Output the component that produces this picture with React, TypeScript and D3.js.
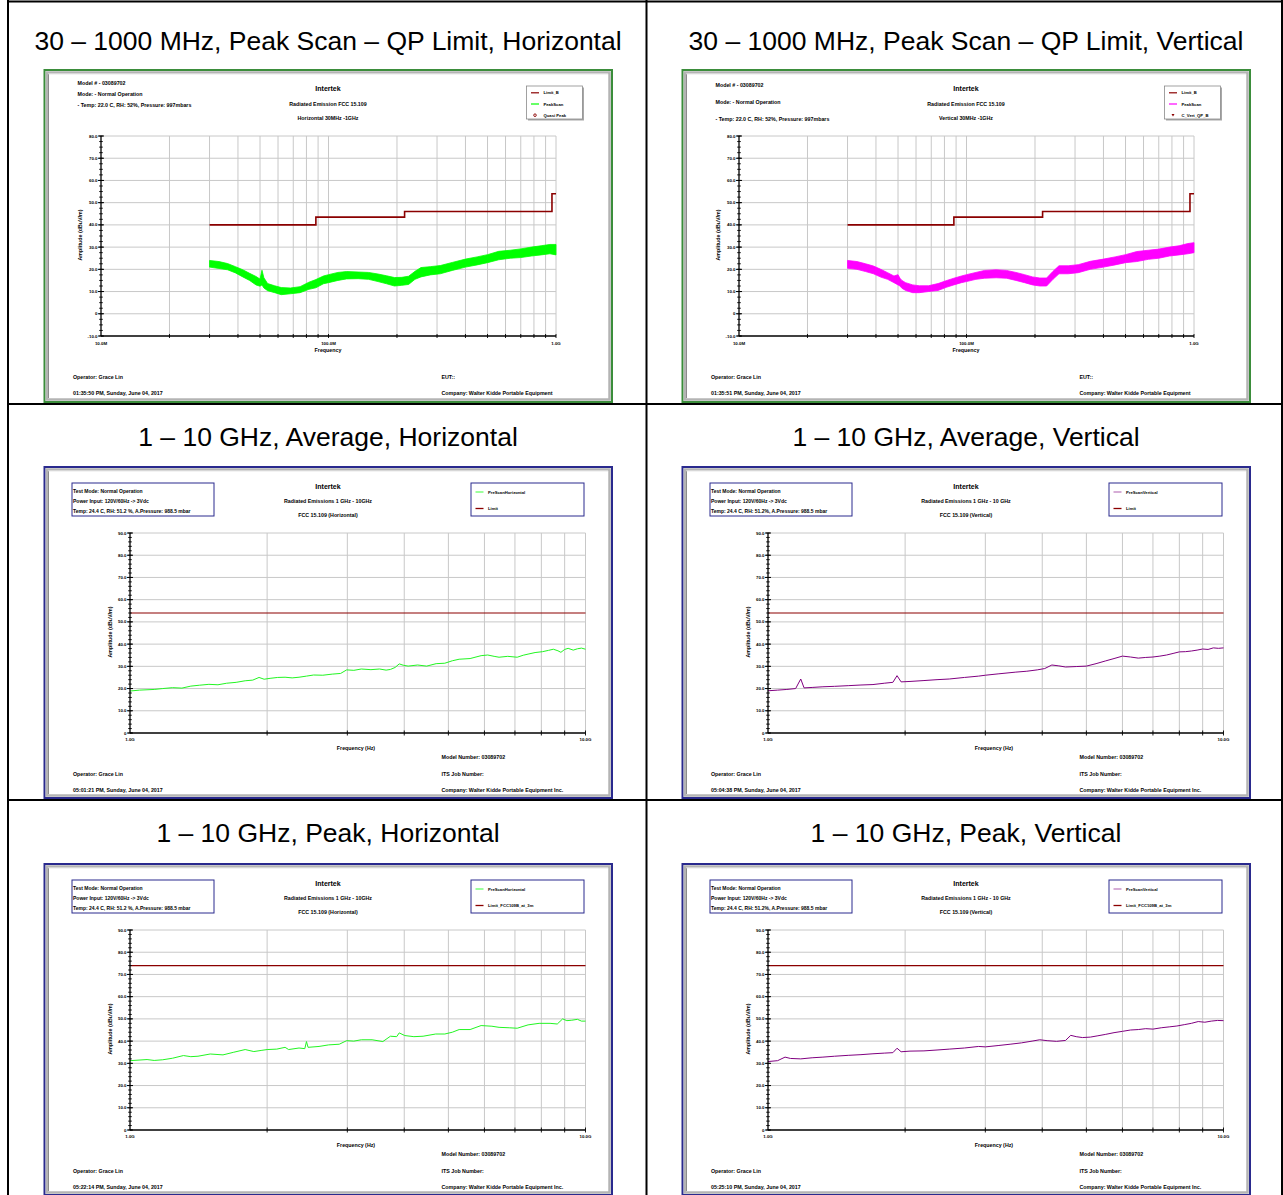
import React from "react";
import * as d3 from "d3";

const FONT = "'Liberation Sans', Arial, Helvetica, sans-serif";

// ---- cell titles (row by row, left then right)
const CELL_TITLES = [
  "30 – 1000 MHz, Peak Scan – QP Limit, Horizontal",
  "30 – 1000 MHz, Peak Scan – QP Limit, Vertical",
  "1 – 10 GHz, Average, Horizontal",
  "1 – 10 GHz, Average, Vertical",
  "1 – 10 GHz, Peak, Horizontal",
  "1 – 10 GHz, Peak, Vertical",
];

// ---- 30 MHz - 1 GHz peak scans: envelope (high / low) of the noisy trace, dBuV/m
const SCAN_FREQ_MHZ = [30, 33, 36, 39, 42, 45, 48, 50, 51, 52, 54, 58, 62, 68, 75, 82, 88, 95, 100, 110, 120, 135, 150, 165, 180, 195, 210, 225, 240, 255, 280, 310, 350, 400, 450, 500, 560, 630, 700, 780, 860, 940, 1000];
const SCAN_H_HI = [24, 23.5, 22.6, 21.2, 19.8, 18.2, 16.8, 15.6, 19.6, 16.2, 13.6, 12.6, 11.8, 11.6, 12.2, 14.2, 15.4, 17, 17.6, 18.6, 19, 18.8, 18.6, 17.9, 17.1, 16.3, 16.4, 16.9, 19.1, 20.8, 21.2, 21.7, 23.1, 24.6, 25.6, 26.6, 28.1, 28.6, 29.2, 30, 30.6, 31.2, 31.2];
const SCAN_H_LO = [21, 20.4, 19.8, 18.4, 16.6, 15, 13, 12.4, 13, 11.6, 10.4, 9.5, 8.6, 9, 9.5, 11, 11.7, 13.5, 14, 15, 15.7, 15.8, 15.5, 14.5, 13.5, 12.5, 12.8, 13.2, 15.5, 16.6, 17.5, 18, 19.5, 21, 22, 23, 24.3, 25, 25.3, 26, 26.5, 27, 26.5];
const SCAN_V_HI = [24, 23.5, 22.5, 21.5, 20, 18.5, 17, 17.6, 16, 15, 14, 13, 12.6, 12.6, 13.6, 15, 16, 17, 17.6, 18.6, 19.5, 19.8, 19.5, 18.6, 17.6, 16.6, 16.1, 16.1, 19.1, 21.6, 21.6, 22.1, 23.6, 24.6, 25.6, 26.6, 28, 28.6, 29.1, 30, 30.6, 31.6, 32];
const SCAN_V_LO = [20.5, 20, 19, 18, 16.5, 15.5, 14, 13, 12.5, 11.5, 10.5, 9.5, 9.5, 10, 10.5, 12, 13, 14, 14.5, 15.5, 16, 16.2, 16, 15, 14, 13, 12.5, 12.5, 15.5, 18, 18, 18.5, 20, 21, 22, 23, 23.5, 24.5, 25, 26, 26.5, 27, 27.5];

const QP_LIMIT_FREQ_MHZ = [30, 88, 216, 960, 1000];
const QP_LIMIT_DB = [40, 43.5, 46, 54, 54];

const LOW_Y_TICKS = [-10, 0, 10, 20, 30, 40, 50, 60, 70, 80];
const LOW_Y_LABELS = ["-10.0", "0", "10.0", "20.0", "30.0", "40.0", "50.0", "60.0", "70.0", "80.0"];
const LOW_X_TICKS = [10, 100, 1000];
const LOW_X_LABELS = ["10.0M", "100.0M", "1.0G"];
const LOW_GRID_MHZ = [20, 30, 40, 50, 60, 70, 80, 90, 100, 200, 300, 400, 500, 600, 700, 800, 900, 1000];

// ---- 1 - 10 GHz traces
const AVG_H_FREQ_GHZ = [1.0, 1.05, 1.13, 1.18, 1.24, 1.3, 1.36, 1.42, 1.49, 1.56, 1.63, 1.71, 1.79, 1.86, 1.92, 1.97, 2.03, 2.11, 2.19, 2.27, 2.35, 2.44, 2.53, 2.65, 2.78, 2.9, 2.99, 3.1, 3.22, 3.38, 3.53, 3.65, 3.73, 3.82, 3.9, 3.98, 4.08, 4.28, 4.48, 4.7, 4.91, 5.1, 5.28, 5.58, 5.9, 6.1, 6.3, 6.46, 6.75, 7.08, 7.3, 7.48, 7.75, 8.05, 8.3, 8.5, 8.7, 8.83, 9.0, 9.16, 9.4, 9.6, 9.8, 10];
const AVG_H_DB = [18.9, 19.3, 19.6, 20.0, 20.4, 20.2, 21.1, 21.5, 21.9, 21.7, 22.4, 22.8, 23.5, 23.8, 25.0, 24.2, 24.6, 25.0, 25.1, 24.8, 25.1, 25.6, 26.1, 26.0, 26.5, 26.8, 28.4, 28.2, 28.8, 28.5, 28.8, 28.3, 28.6, 29.5, 31.1, 30.5, 30.1, 30.6, 30.1, 31.2, 31.4, 32.5, 33.2, 33.5, 34.8, 35.1, 34.5, 34.1, 34.5, 34.1, 35.0, 35.5, 36.2, 36.6, 37.2, 37.7, 37.0, 36.3, 37.6, 38.1, 37.3, 37.9, 38.2, 37.7];

const AVG_V_FREQ_GHZ = [1.0, 1.05, 1.1, 1.15, 1.18, 1.2, 1.25, 1.32, 1.4, 1.5, 1.6, 1.7, 1.8, 1.88, 1.92, 1.96, 2.05, 2.2, 2.35, 2.5, 2.7, 2.9, 3.0, 3.2, 3.5, 3.7, 3.9, 4.05, 4.2, 4.35, 4.5, 4.75, 5.0, 5.25, 5.5, 5.75, 6.0, 6.25, 6.5, 6.75, 7.0, 7.25, 7.5, 7.75, 8.0, 8.25, 8.5, 8.75, 9.0, 9.25, 9.5, 9.75, 10];
const AVG_V_DB = [19.0, 19.3, 19.6, 20.0, 24.3, 20.3, 20.5, 20.8, 21.0, 21.3, 21.6, 21.8, 22.4, 22.8, 25.8, 23.0, 23.2, 23.6, 24.0, 24.3, 25.0, 25.6, 26.0, 26.6, 27.4, 27.8, 28.4, 29.0, 30.6, 30.2, 29.7, 29.9, 30.1, 31.2, 32.4, 33.5, 34.6, 34.2, 33.7, 34.0, 34.2, 34.6, 35.1, 35.8, 36.5, 36.6, 36.9, 37.3, 37.8, 37.6, 38.3, 38.1, 38.3];

const PK_H_FREQ_GHZ = [1.0, 1.09, 1.13, 1.18, 1.24, 1.31, 1.36, 1.41, 1.5, 1.6, 1.69, 1.79, 1.87, 1.94, 2.0, 2.1, 2.19, 2.23, 2.35, 2.42, 2.44, 2.46, 2.6, 2.73, 2.88, 2.99, 3.1, 3.22, 3.4, 3.59, 3.73, 3.85, 3.9, 4.01, 4.2, 4.4, 4.69, 4.91, 5.1, 5.28, 5.58, 5.9, 6.23, 6.46, 6.8, 7.08, 7.48, 7.91, 8.36, 8.67, 8.91, 9.1, 9.33, 9.6, 9.8, 10];
const PK_H_DB = [31.2, 31.7, 31.3, 31.6, 32.3, 33.5, 33.0, 33.2, 34.2, 33.8, 35.0, 36.2, 35.3, 35.8, 36.2, 36.4, 37.2, 36.2, 36.9, 36.6, 39.8, 37.2, 37.6, 38.3, 38.6, 40.2, 40.0, 40.6, 40.6, 39.8, 42.2, 42.0, 43.7, 42.5, 42.0, 42.2, 43.2, 43.2, 44.0, 45.2, 45.2, 47.0, 46.7, 46.2, 46.0, 45.8, 47.3, 48.0, 48.0, 47.7, 50.0, 49.2, 49.4, 49.8, 49.0, 49.0];

const PK_V_FREQ_GHZ = [1.0, 1.05, 1.09, 1.12, 1.18, 1.25, 1.32, 1.4, 1.5, 1.6, 1.7, 1.8, 1.88, 1.92, 1.96, 2.05, 2.2, 2.35, 2.5, 2.7, 2.9, 3.0, 3.2, 3.4, 3.6, 3.8, 3.95, 4.1, 4.3, 4.5, 4.62, 4.75, 4.9, 5.1, 5.3, 5.5, 5.75, 6.0, 6.25, 6.5, 6.75, 7.0, 7.3, 7.6, 7.9, 8.2, 8.5, 8.8, 9.1, 9.4, 9.7, 10];
const PK_V_DB = [30.8, 31.2, 32.8, 32.2, 32.0, 32.5, 32.8, 33.2, 33.6, 33.9, 34.3, 34.6, 34.8, 36.8, 35.2, 35.5, 35.6, 36.0, 36.4, 36.9, 37.6, 37.4, 38.0, 38.6, 39.2, 40.0, 40.6, 40.2, 39.9, 40.3, 42.6, 42.0, 41.6, 41.8, 42.4, 43.0, 43.8, 44.4, 45.0, 45.2, 45.6, 45.4, 46.0, 46.4, 46.8, 47.4, 48.0, 48.8, 48.5, 49.0, 49.3, 49.2];

const AVG_LIMIT_DB = 54;
const PK_LIMIT_DB = 74;

const HIGH_Y_TICKS = [0, 10, 20, 30, 40, 50, 60, 70, 80, 90];
const HIGH_Y_LABELS = ["0", "10.0", "20.0", "30.0", "40.0", "50.0", "60.0", "70.0", "80.0", "90.0"];
const HIGH_X_TICKS = [1, 10];
const HIGH_X_LABELS = ["1.0G", "10.0G"];
const HIGH_GRID_GHZ = [2, 3, 4, 5, 6, 7, 8, 9, 10];

const GREEN_FRAME = "#3b8d3b";
const NAVY_FRAME = "#2a2a8e";
const LIMIT_RED = "#8b0000";
const GRID = "#c8c8c8";

function T({ x, y, children, size = 5.3, anchor = "start", weight = "bold", rotate }: any) {
  return (
    <text
      x={x}
      y={y}
      fontFamily={FONT}
      fontSize={size}
      fontWeight={weight}
      textAnchor={anchor}
      fill="#000"
      transform={rotate ? `rotate(${rotate},${x},${y})` : undefined}
    >
      {children}
    </text>
  );
}

function Frame({ ox, oy, w, h, color }: any) {
  return (
    <g>
      <rect x={ox} y={oy} width={w} height={h} fill="#fff" stroke={color} strokeWidth={2} />
      <rect x={ox + 2.5} y={oy + 2.5} width={w - 5} height={h - 5} fill="none" stroke="#b4b4b4" strokeWidth={2.5} />
      <line x1={ox + 4} x2={ox + 4} y1={oy + 4} y2={oy + h - 4} stroke="#8c8c8c" strokeWidth={1} />
      <line x1={ox + 4} x2={ox + w - 4} y1={oy + 4} y2={oy + 4} stroke="#e8e8e8" strokeWidth={1} />
    </g>
  );
}

function YAxis({ x0, y, major, labels, minorStep, lo, hi }: any) {
  const minor = d3.range(lo, hi + 0.001, minorStep);
  return (
    <g>
      <line x1={x0} x2={x0} y1={y(lo)} y2={y(hi)} stroke="#000" strokeWidth={1.3} />
      {minor.map((v: number) => (
        <line key={"m" + v} x1={x0 - 1.8} x2={x0 + 1.8} y1={y(v)} y2={y(v)} stroke="#000" strokeWidth={0.9} />
      ))}
      {major.map((v: number, i: number) => (
        <g key={"M" + v}>
          <line x1={x0 - 3} x2={x0 + 3} y1={y(v)} y2={y(v)} stroke="#000" strokeWidth={1} />
          <T x={x0 - 3.5} y={y(v) + 1.6} size={4.4} anchor="end">
            {labels[i]}
          </T>
        </g>
      ))}
    </g>
  );
}

function LowPanel({ ox, oy, head, headY, sub, legend, color, hi, lo, date }: any) {
  const x = d3.scaleLog().domain([10, 1000]).range([ox + 56.5, ox + 511.5]);
  const y = d3.scaleLinear().domain([-10, 80]).range([oy + 266, oy + 66]);
  const area = d3
    .area<number>()
    .x((_, i) => x(SCAN_FREQ_MHZ[i]))
    .y0((_, i) => y(lo[i]))
    .y1((d) => y(d));
  const limit = d3
    .line<number>()
    .x((_, i) => x(QP_LIMIT_FREQ_MHZ[i]))
    .y((d) => y(d))
    .curve(d3.curveStepAfter);
  const [x0, x1] = x.range();
  const yb = y(-10);
  const yt = y(80);
  const lx = ox + 482;
  const ly = oy + 16;
  return (
    <g>
      <Frame ox={ox} oy={oy} w={567.5} h={332} color={GREEN_FRAME} />
      {head.map((s: string, i: number) => (
        <T key={s} x={ox + 33} y={oy + headY[i]}>
          {s}
        </T>
      ))}
      <T x={ox + 283.5} y={oy + 20.5} size={7} anchor="middle">
        Intertek
      </T>
      <T x={ox + 283.5} y={oy + 36} anchor="middle">
        {sub[0]}
      </T>
      <T x={ox + 283.5} y={oy + 50} anchor="middle">
        {sub[1]}
      </T>
      {/* legend */}
      <rect x={lx + 1.5} y={ly + 1.5} width={56} height={33} fill="#a8a8a8" />
      <rect x={lx} y={ly} width={56} height={33} fill="#fff" stroke="#8a8a8a" strokeWidth={0.8} />
      {legend.map((e: any, i: number) => {
        const cy = ly + 6.8 + i * 11.2;
        return (
          <g key={e.label}>
            {e.kind === "line" && (
              <line x1={lx + 4.5} x2={lx + 12.5} y1={cy} y2={cy} stroke={e.color} strokeWidth={1.2} />
            )}
            {e.kind === "circle" && <circle cx={lx + 8.5} cy={cy} r={1.3} fill="none" stroke={e.color} strokeWidth={0.9} />}
            {e.kind === "tri" && (
              <path d={`M${lx + 7},${cy - 1.2}L${lx + 10},${cy - 1.2}L${lx + 8.5},${cy + 1.4}Z`} fill={e.color} />
            )}
            <T x={lx + 17} y={cy + 1.6} size={4.2}>
              {e.label}
            </T>
          </g>
        );
      })}
      {/* grid */}
      {LOW_Y_TICKS.slice(1).map((v) => (
        <line key={"h" + v} x1={x0} x2={x1} y1={y(v)} y2={y(v)} stroke={GRID} strokeWidth={1} />
      ))}
      {LOW_GRID_MHZ.map((f) => (
        <line key={"v" + f} x1={x(f)} x2={x(f)} y1={yt} y2={yb} stroke={GRID} strokeWidth={1} />
      ))}
      {/* data */}
      <path d={limit(QP_LIMIT_DB) || ""} fill="none" stroke={LIMIT_RED} strokeWidth={1.6} />
      <path d={area(hi) || ""} fill={color} stroke={color} strokeWidth={0.8} />
      {/* axes */}
      <line x1={x0} x2={x1} y1={yb} y2={yb} stroke="#000" strokeWidth={1.3} />
      {LOW_GRID_MHZ.map((f) => (
        <line key={"t" + f} x1={x(f)} x2={x(f)} y1={yb - 2} y2={yb + 2} stroke="#000" strokeWidth={0.9} />
      ))}
      {LOW_X_TICKS.map((f, i) => (
        <T key={"xl" + f} x={x(f)} y={oy + 275} size={4.4} anchor="middle">
          {LOW_X_LABELS[i]}
        </T>
      ))}
      <YAxis x0={x0} y={y} major={LOW_Y_TICKS} labels={LOW_Y_LABELS} minorStep={2.5} lo={-10} hi={80} />
      <T x={ox + 37} y={oy + 165} size={5.3} anchor="middle" rotate={-90}>
        Amplitude (dBuV/m)
      </T>
      <T x={ox + 283.5} y={oy + 282} anchor="middle">
        Frequency
      </T>
      <T x={ox + 28.5} y={oy + 309}>
        Operator: Grace Lin
      </T>
      <T x={ox + 397} y={oy + 309}>
        EUT::
      </T>
      <T x={ox + 28.5} y={oy + 325}>
        {date}
      </T>
      <T x={ox + 397} y={oy + 325}>
        Company: Walter Kidde Portable Equipment
      </T>
    </g>
  );
}

function HighPanel({ ox, oy, info, sub, legend, color, legendColor, freq, values, limitDb, date }: any) {
  const x = d3.scaleLog().domain([1, 10]).range([ox + 85.5, ox + 541]);
  const y = d3.scaleLinear().domain([0, 90]).range([oy + 266, oy + 66]);
  const line = d3
    .line<number>()
    .x((_, i) => x(freq[i]))
    .y((d) => y(d));
  const [x0, x1] = x.range();
  const yb = y(0);
  const yt = y(90);
  const lx = ox + 426.5;
  const ly = oy + 16;
  return (
    <g>
      <Frame ox={ox} oy={oy} w={567.5} h={331} color={NAVY_FRAME} />
      <rect x={ox + 27.5} y={oy + 16} width={142} height={33} fill="#fff" stroke={NAVY_FRAME} strokeWidth={1} />
      {info.map((s: string, i: number) => (
        <T key={s} x={ox + 28.5} y={oy + 26 + i * 10} size={5}>
          {s}
        </T>
      ))}
      <T x={ox + 283.5} y={oy + 21.5} size={7} anchor="middle">
        Intertek
      </T>
      <T x={ox + 283.5} y={oy + 36} anchor="middle">
        {sub[0]}
      </T>
      <T x={ox + 283.5} y={oy + 50} anchor="middle">
        {sub[1]}
      </T>
      <rect x={lx} y={ly} width={113} height={33} fill="#fff" stroke={NAVY_FRAME} strokeWidth={1} />
      {legend.map((s: string, i: number) => {
        const cy = ly + 9 + i * 16.5;
        return (
          <g key={s}>
            <line x1={lx + 4.5} x2={lx + 12.5} y1={cy} y2={cy} stroke={i === 0 ? legendColor : LIMIT_RED} strokeWidth={1.3} />
            <T x={lx + 17} y={cy + 1.5} size={4.2}>
              {s}
            </T>
          </g>
        );
      })}
      {HIGH_Y_TICKS.slice(1).map((v) => (
        <line key={"h" + v} x1={x0} x2={x1} y1={y(v)} y2={y(v)} stroke={GRID} strokeWidth={1} />
      ))}
      {HIGH_GRID_GHZ.map((f) => (
        <line key={"v" + f} x1={x(f)} x2={x(f)} y1={yt} y2={yb} stroke={GRID} strokeWidth={1} />
      ))}
      <line x1={x0} x2={x1} y1={y(limitDb)} y2={y(limitDb)} stroke={LIMIT_RED} strokeWidth={1.2} />
      <path d={line(values) || ""} fill="none" stroke={color} strokeWidth={1} strokeLinejoin="round" />
      <line x1={x0} x2={x1} y1={yb} y2={yb} stroke="#000" strokeWidth={1.3} />
      {HIGH_GRID_GHZ.map((f) => (
        <line key={"t" + f} x1={x(f)} x2={x(f)} y1={yb - 2.5} y2={yb + 2.5} stroke="#000" strokeWidth={0.9} />
      ))}
      {HIGH_X_TICKS.map((f, i) => (
        <T key={"xl" + f} x={x(f)} y={oy + 274} size={4.4} anchor="middle">
          {HIGH_X_LABELS[i]}
        </T>
      ))}
      <YAxis x0={x0} y={y} major={HIGH_Y_TICKS} labels={HIGH_Y_LABELS} minorStep={2} lo={0} hi={90} />
      <T x={ox + 67.5} y={oy + 165} size={5.3} anchor="middle" rotate={-90}>
        Amplitude (dBuV/m)
      </T>
      <T x={ox + 311.5} y={oy + 283} anchor="middle">
        Frequency (Hz)
      </T>
      <T x={ox + 397} y={oy + 292}>
        Model Number: 03089702
      </T>
      <T x={ox + 28.5} y={oy + 309}>
        Operator: Grace Lin
      </T>
      <T x={ox + 397} y={oy + 309}>
        ITS Job Number:
      </T>
      <T x={ox + 28.5} y={oy + 325}>
        {date}
      </T>
      <T x={ox + 397} y={oy + 325}>
        Company: Walter Kidde Portable Equipment Inc.
      </T>
    </g>
  );
}

export default function App() {
  const W = 1283;
  const H = 1195;
  const dx = 638;
  const titleX = [328, 966];
  const titleY = [49.5, 446, 842];
  const infoH = ["Test Mode: Normal Operation", "Power Input: 120V/60Hz -> 3Vdc", "Temp: 24.4 C, RH: 51.2 %, A.Pressure: 988.5 mbar"];
  const infoV = ["Test Mode: Normal Operation", "Power Input: 120V/60Hz -> 3Vdc", "Temp: 24.4 C, RH: 51.2%, A.Pressure: 988.5 mbar"];
  const topHead = ["Model # - 03089702", "Mode: - Normal Operation", "- Temp: 22.0 C, RH: 52%, Pressure: 997mbars"];
  return (
    <svg width={W} height={H} style={{ position: "absolute", left: 0, top: 0, background: "#fff" }}>
      <rect x={0} y={0} width={W} height={H} fill="#fff" />
      {/* table lines */}
      <line x1={8} x2={1283} y1={1.5} y2={1.5} stroke="#000" strokeWidth={2} />
      <line x1={8} x2={1283} y1={404} y2={404} stroke="#000" strokeWidth={2} />
      <line x1={8} x2={1283} y1={800} y2={800} stroke="#000" strokeWidth={2} />
      <line x1={8} x2={8} y1={0} y2={H} stroke="#000" strokeWidth={2} />
      <line x1={646.5} x2={646.5} y1={0} y2={H} stroke="#000" strokeWidth={2} />
      <line x1={1282} x2={1282} y1={0} y2={H} stroke="#000" strokeWidth={2} />
      {CELL_TITLES.map((t, i) => (
        <text
          key={t}
          x={titleX[i % 2]}
          y={titleY[Math.floor(i / 2)]}
          fontFamily={FONT}
          fontSize={26.5}
          textAnchor="middle"
          fill="#000"
        >
          {t}
        </text>
      ))}

      <LowPanel
        ox={44.5}
        oy={70}
        head={topHead}
        headY={[15, 26, 37]}
        sub={["Radiated Emission FCC 15.109", "Horizontal 30MHz -1GHz"]}
        legend={[
          { label: "Limit_B", kind: "line", color: LIMIT_RED },
          { label: "PeakScan", kind: "line", color: "#00ff00" },
          { label: "Quasi Peak", kind: "circle", color: LIMIT_RED },
        ]}
        color="#00ff00"
        hi={SCAN_H_HI}
        lo={SCAN_H_LO}
        date="01:35:50 PM, Sunday, June 04, 2017"
      />
      <LowPanel
        ox={44.5 + dx}
        oy={70}
        head={topHead}
        headY={[17, 34, 51]}
        sub={["Radiated Emission FCC 15.109", "Vertical 30MHz -1GHz"]}
        legend={[
          { label: "Limit_B", kind: "line", color: LIMIT_RED },
          { label: "PeakScan", kind: "line", color: "#ff00ff" },
          { label: "C_Vert_QP_B", kind: "tri", color: LIMIT_RED },
        ]}
        color="#ff00ff"
        hi={SCAN_V_HI}
        lo={SCAN_V_LO}
        date="01:35:51 PM, Sunday, June 04, 2017"
      />

      <HighPanel
        ox={44.5}
        oy={467}
        info={infoH}
        sub={["Radiated Emissions 1 GHz - 10GHz", "FCC 15.109 (Horizontal)"]}
        legend={["PreScanHorizontal", "Limit"]}
        color="#22f522"
        legendColor="#66ff66"
        freq={AVG_H_FREQ_GHZ}
        values={AVG_H_DB}
        limitDb={AVG_LIMIT_DB}
        date="05:01:21 PM, Sunday, June 04, 2017"
      />
      <HighPanel
        ox={44.5 + dx}
        oy={467}
        info={infoV}
        sub={["Radiated Emissions 1 GHz - 10 GHz", "FCC 15.109 (Vertical)"]}
        legend={["PreScanVertical", "Limit"]}
        color="#800080"
        legendColor="#c080c0"
        freq={AVG_V_FREQ_GHZ}
        values={AVG_V_DB}
        limitDb={AVG_LIMIT_DB}
        date="05:04:38 PM, Sunday, June 04, 2017"
      />

      <HighPanel
        ox={44.5}
        oy={864}
        info={infoH}
        sub={["Radiated Emissions 1 GHz - 10GHz", "FCC 15.109 (Horizontal)"]}
        legend={["PreScanHorizontal", "Limit_FCC109B_at_3m"]}
        color="#22f522"
        legendColor="#66ff66"
        freq={PK_H_FREQ_GHZ}
        values={PK_H_DB}
        limitDb={PK_LIMIT_DB}
        date="05:22:14 PM, Sunday, June 04, 2017"
      />
      <HighPanel
        ox={44.5 + dx}
        oy={864}
        info={infoV}
        sub={["Radiated Emissions 1 GHz - 10 GHz", "FCC 15.109 (Vertical)"]}
        legend={["PreScanVertical", "Limit_FCC109B_at_3m"]}
        color="#800080"
        legendColor="#c080c0"
        freq={PK_V_FREQ_GHZ}
        values={PK_V_DB}
        limitDb={PK_LIMIT_DB}
        date="05:25:10 PM, Sunday, June 04, 2017"
      />
    </svg>
  );
}
